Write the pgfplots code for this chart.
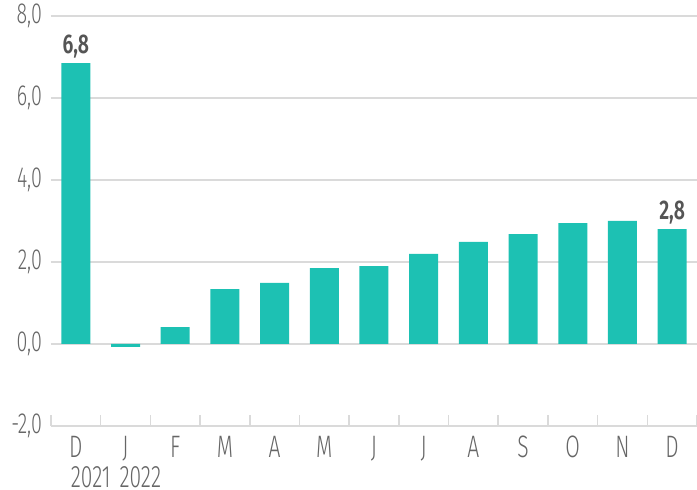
\documentclass[border=0pt]{standalone}
\usepackage{pgfplots}
\pgfplotsset{compat=1.18}
\usepackage{fontspec}
\setmainfont{Fira Sans Light}[FakeStretch=0.68, BoldFont={Fira Sans SemiBold}, BoldFeatures={FakeStretch=0.72}]
\definecolor{barc}{HTML}{1DC1B3}
\definecolor{gridc}{HTML}{DADADA}
\definecolor{txt}{HTML}{666666}
\definecolor{lbl}{HTML}{555555}
\begin{document}
\begin{tikzpicture}
\useasboundingbox (-25.5pt,-32pt) rectangle (323pt,213pt);
\begin{axis}[
  at={(0,0)}, anchor=south west,
  scale only axis,
  width=323pt, height=205pt,
  xmin=-0.5, xmax=12.5,
  ymin=-2, ymax=8,
  ytick={-2,0,2,4,6,8},
  ymajorgrids,
  grid style={gridc, line width=0.8pt},
  axis x line*=bottom,
  axis y line*=left,
  y axis line style={draw=none},
  x axis line style={gridc, line width=1pt},
  ytick style={draw=none},
  xtick={0,...,12},
  xticklabels={{\makebox[0pt]{D}\\\makebox[0pt][l]{\hspace{-2.5pt}2021}},{\makebox[0pt]{J}\\\makebox[0pt][l]{\hspace{-3pt}2022}},F,M,A,M,J,J,A,S,O,N,D},
  major x tick style={draw=none},
  minor xtick={-0.5,0.5,...,12.5},
  minor x tick style={gridc, line width=0.8pt},
  minor tick length=5.5pt,
  tick align=inside,
  xticklabel style={align=center, anchor=north, inner sep=1pt, yshift=-4pt, font=\fontsize{15.5}{15}\selectfont, text=txt},
  yticklabel style={font=\fontsize{14.5}{15}\selectfont, text=txt, xshift=-1pt},
  /pgf/number format/.cd, fixed, fixed zerofill, precision=1, use comma, assume math mode=true,
]
\addplot[ybar, bar width=14.5pt, bar shift=0pt, fill=barc, draw=none] coordinates {
(0,6.85) (1,-0.07) (2,0.41) (3,1.34) (4,1.49) (5,1.85) (6,1.90) (7,2.20) (8,2.49) (9,2.68) (10,2.95) (11,3.00) (12,2.80)
};
\addplot[ybar, bar width=14.5pt, bar shift=0pt, fill=none, draw=none,
  nodes near coords={\pgfmathprintnumber[fixed,precision=1,use comma,assume math mode=true]{\pgfplotspointmeta}},
  point meta=explicit,
  nodes near coords style={font=\fontsize{13.5}{14}\bfseries\selectfont, text=lbl, anchor=south, yshift=-1pt}] coordinates {
(0,6.85) [6.8] (12,2.80) [2.8]
};
\end{axis}
\end{tikzpicture}
\end{document}
